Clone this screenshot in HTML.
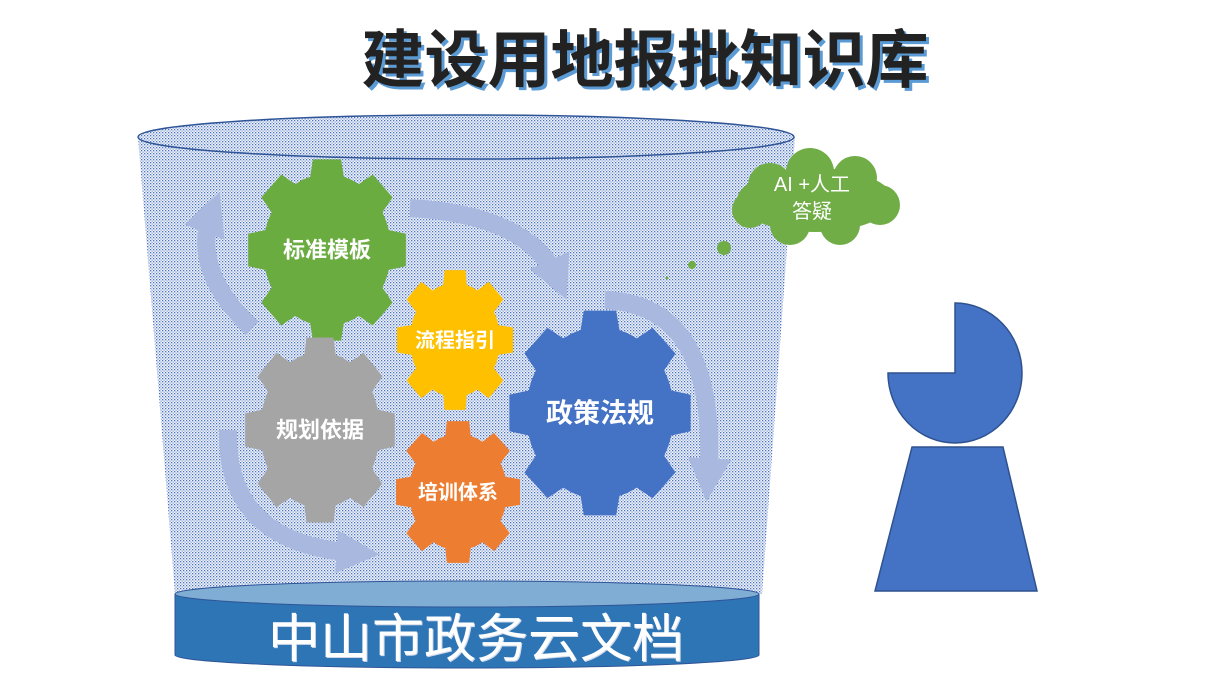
<!DOCTYPE html>
<html><head><meta charset="utf-8"><style>
html,body{margin:0;padding:0;background:#fff;width:1210px;height:689px;overflow:hidden}
svg{display:block}
text{font-family:"Liberation Sans","Noto Sans CJK SC",sans-serif}
</style></head><body>
<svg id="s" width="1210" height="689" viewBox="0 0 1210 689" xmlns="http://www.w3.org/2000/svg">
<defs>
<pattern id="dots" width="3" height="3" patternUnits="userSpaceOnUse">
<rect width="3" height="3" fill="#f2f5fb"/>
<rect x="0" y="0" width="1.3" height="1.3" fill="#4a72c0"/>
<rect x="1.5" y="1.5" width="1.3" height="1.3" fill="#8aa3da"/>
</pattern>
<marker id="ah" viewBox="0 0 10 10" refX="5" refY="5" markerWidth="2.4" markerHeight="2.4" orient="auto">
<path d="M0,0 L10,5 L0,10 z" fill="#a9b8de"/></marker>
</defs>
<text x="648" y="85" font-size="63" font-weight="bold" text-anchor="middle" fill="#5b9bd5">建设用地报批知识库</text>
<text x="645" y="82" font-size="63" font-weight="bold" text-anchor="middle" fill="#222">建设用地报批知识库</text>
<path d="M138,137 L175,594 L762,594 L795,137 Z" fill="url(#dots)"/>
<ellipse cx="466" cy="137" rx="328" ry="22" fill="url(#dots)" stroke="#2f5597" stroke-width="1.5"/>
<g fill="none" stroke="#a9b8de" stroke-width="18" marker-end="url(#ah)">
<path d="M252,328 Q190,270 212,212"/>
<path d="M410,208 Q530,215 558,280"/>
<path d="M605,300 Q720,305 708,480"/>
<path d="M228,430 Q225,545 358,553"/>
</g>
<g id="gears"></g>
<g fill="#70ad47">
<ellipse cx="815" cy="200" rx="78" ry="32"/>
<circle cx="770" cy="185" r="22"/><circle cx="810" cy="172" r="24"/><circle cx="855" cy="178" r="22"/>
<circle cx="880" cy="205" r="20"/><circle cx="750" cy="210" r="18"/><circle cx="790" cy="225" r="20"/><circle cx="840" cy="225" r="20"/>
<circle cx="724" cy="248" r="7"/><circle cx="692" cy="265" r="4"/><circle cx="667" cy="278" r="1.5"/>
</g>
<text x="812" y="191" font-size="20" fill="#fff" text-anchor="middle">AI +人工</text>
<text x="812" y="218" font-size="20" fill="#fff" text-anchor="middle">答疑</text>
<path d="M955,373 L888,373 A67,70 0 1 0 955,303 Z" fill="#4472c4" stroke="#2f528f" stroke-width="1.5"/>
<path d="M912,447 L1003,447 L1037,591 L875,591 Z" fill="#4472c4" stroke="#2f528f" stroke-width="1.5"/>
<path d="M175,594 L175,655 A292,13 0 0 0 759,655 L759,594 Z" fill="#2e75b6" stroke="#2f5597" stroke-width="1"/>
<ellipse cx="467" cy="594" rx="292" ry="13" fill="#7fadd3" stroke="#2f5597" stroke-width="1"/>
<text x="477" y="658" font-size="52" fill="#cfd8e8" text-anchor="middle">中山市政务云文档</text>
<text x="476" y="657" font-size="52" fill="#fff" text-anchor="middle">中山市政务云文档</text>
</svg>
<script>
(function(){
var g=document.getElementById('gears');var ns='http://www.w3.org/2000/svg';
function gear(cx,cy,rx,ry,t,n,col,label,fs){
 var pts=[];
 for(var i=0;i<n;i++){
  var a=i*2*Math.PI/n-Math.PI/2, w=Math.PI/n*0.45;
  var seq=[[a-w*1.5,0],[a-w,1],[a+w,1],[a+w*1.5,0],[a+Math.PI/n,0]];
  seq.forEach(function(s){var k=s[1]?t:0;pts.push([cx+(rx+k)*Math.cos(s[0]),cy+(ry+k)*Math.sin(s[0])]);});
 }
 var d='M'+pts.map(function(p){return p[0].toFixed(1)+','+p[1].toFixed(1)}).join(' L')+'Z';
 var p=document.createElementNS(ns,'path');p.setAttribute('d',d);p.setAttribute('fill',col);g.appendChild(p);
 var tx=document.createElementNS(ns,'text');tx.setAttribute('x',cx);tx.setAttribute('y',cy+fs*0.35);
 tx.setAttribute('font-size',fs);tx.setAttribute('font-weight','bold');tx.setAttribute('fill','#fff');tx.setAttribute('text-anchor','middle');
 tx.textContent=label;g.appendChild(tx);
}
gear(327,250,64,76,16,8,'#6aac3f','标准模板',22);
gear(320,430,60,78,16,8,'#a5a5a5','规划依据',22);
gear(455,340,45,57,14,8,'#ffc000','流程指引',20);
gear(600,413,74,86,18,8,'#4472c4','政策法规',27);
gear(458,492,49,58,14,8,'#ed7d31','培训体系',20);
})();
</script>
</body></html>
